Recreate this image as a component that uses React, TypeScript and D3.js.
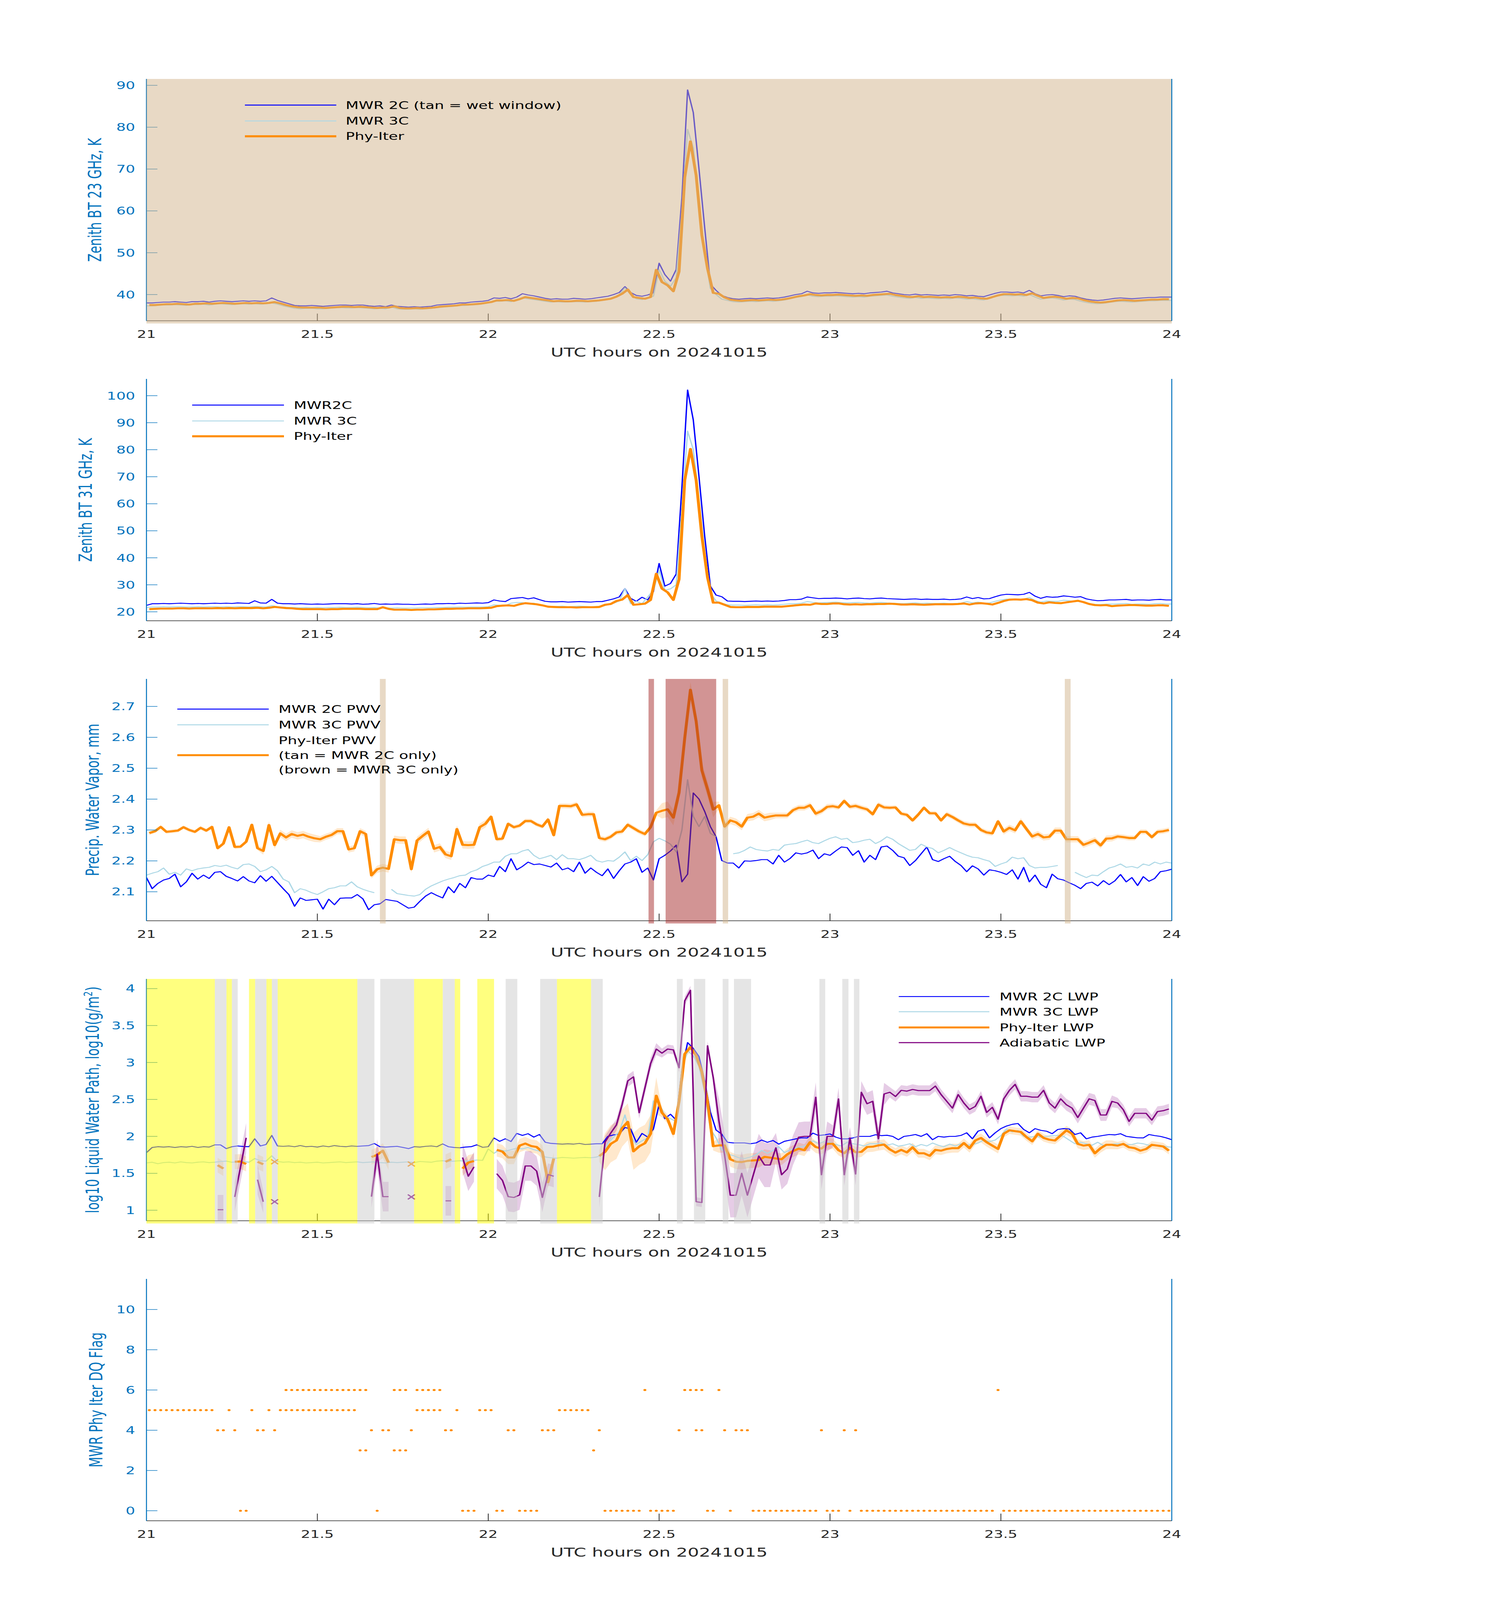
import * as d3 from "d3";

// page / layout (drawn in a 3825 x 6000 coordinate space)
const width = 3825;
const height = 6000;
const plotLeft = 375;
const plotRight = 3000;
const panelTop0 = 296;
const panelStep = 1125;
const panelHeight = 907;

const font = "'DejaVu Sans', Verdana, sans-serif";
const axBlue = "#0072BD";
const axDark = "#262626";
const c2 = "#0000FF";
const c3 = "#ADD8E6";
const cPhy = "#FF8C00";
const cAdb = "#800080";

type Val = number | null;

// ---- x axis ----
const xTicks = [21, 21.5, 22, 22.5, 23, 23.5, 24];
const xTickLabels = ["21", "21.5", "22", "22.5", "23", "23.5", "24"];
const xLabel = "UTC hours on 20241015";

// MWR samples every minute from 21:00, Phy-Iter retrievals at the middle of each minute
const tMin = (i: number) => 21 + i / 60;
const tMid = (i: number) => 21 + (i + 0.5) / 60;

// ---- panel 1: 23 GHz ----
const bt23_2c: Val[] = [
  38.0, 38.0, 38.1, 38.2, 38.2, 38.3, 38.2, 38.1, 38.3, 38.3,
  38.4, 38.2, 38.4, 38.5, 38.4, 38.3, 38.4, 38.5, 38.4, 38.5,
  38.4, 38.5, 39.2, 38.6, 38.2, 37.8, 37.4, 37.3, 37.3, 37.4,
  37.3, 37.2, 37.3, 37.4, 37.5, 37.5, 37.4, 37.5, 37.5, 37.3,
  37.2, 37.3, 37.1, 37.5, 37.2, 37.1, 37.0, 37.1, 37.0, 37.1,
  37.2, 37.5, 37.6, 37.7, 37.8, 38.0, 38.0, 38.2, 38.3, 38.4,
  38.6, 39.2, 39.1, 39.3, 39.0, 39.4, 40.2, 39.9, 39.7, 39.4,
  39.1, 38.9, 39.0, 38.9, 38.9, 39.1, 39.0, 38.9, 39.0, 39.2,
  39.4, 39.6, 40.0, 40.5, 41.9, 40.5, 39.8, 39.6, 39.9, 40.4,
  47.5, 44.8, 43.2, 46.0, 63.0, 88.9, 83.5, 70.0, 56.0, 42.5,
  41.0, 39.8, 39.3, 39.0, 38.9, 39.0, 39.1, 39.0, 39.1, 39.2,
  39.1, 39.2, 39.4, 39.7, 40.0, 40.2, 40.8, 40.4, 40.3, 40.4,
  40.4, 40.5, 40.4, 40.3, 40.2, 40.3, 40.2, 40.4, 40.5, 40.6,
  40.8, 40.4, 40.2, 40.0, 39.9, 40.1, 39.9, 40.0, 39.9, 39.8,
  39.9, 39.8, 40.0, 39.9, 39.7, 39.8, 39.6, 39.5, 39.9, 40.3,
  40.6, 40.6, 40.5, 40.6, 40.4, 41.0, 40.2, 39.7, 39.9, 40.0,
  39.8, 39.5, 39.7, 39.6, 39.2, 38.9, 38.7, 38.6, 38.7, 38.9,
  39.1, 39.2, 39.1, 39.0, 39.1, 39.2, 39.3, 39.3, 39.4, 39.4, 39.4,
];
const bt23_3c: Val[] = [
  37.3, 37.3, 37.4, 37.5, 37.5, 37.6, 37.5, 37.4, 37.6, 37.6,
  37.7, 37.5, 37.7, 37.8, 37.7, 37.6, 37.7, 37.8, 37.7, 37.8,
  37.7, 37.8, 38.0, 37.7, 37.3, 37.0, 36.7, 36.6, 36.7, 36.7,
  36.6, 36.6, 36.7, 36.8, 36.9, 36.8, 36.8, 36.9, 36.8, 36.7,
  36.6, 36.7, 36.6, 37.0, 36.6, 36.5, 36.5, 36.6, 36.5, 36.6,
  36.7, 36.9, 37.0, 37.1, 37.2, 37.4, 37.4, 37.5, 37.6, 37.8,
  38.0, 38.4, 38.4, 38.5, 38.3, 38.7, 39.2, 39.0, 38.8, 38.6,
  38.4, 38.2, 38.3, 38.2, 38.2, 38.3, 38.3, 38.2, 38.3, 38.4,
  38.6, 38.8, 39.3, 40.0, 41.6, 40.0, 39.0, 38.8, 39.1, 39.6,
  46.0, 43.2, 42.0, 44.0, 60.0, 79.5, 75.0, 62.0, 50.0, 41.5,
  40.0, 38.9, 38.6, 38.3, 38.2, 38.3, 38.4, 38.3, 38.4, 38.5,
  38.4, 38.5, 38.7, 39.0, 39.3, 39.5, 39.9, 39.6, 39.5, 39.6,
  39.6, 39.7, 39.6, 39.5, 39.4, 39.5, 39.4, 39.6, 39.7, 39.8,
  39.9, 39.6, 39.4, 39.2, 39.1, 39.3, 39.1, 39.2, 39.1, 39.0,
  39.1, 39.0, 39.2, 39.1, 38.9, 39.0, 38.8, 38.7, 39.1, 39.5,
  39.8, 39.8, 39.7, 39.8, 39.6, 40.0, 39.4, 38.9, 39.1, 39.2,
  39.0, 38.7, 38.9, 38.8, 38.4, 38.1, 37.9, 37.8, 37.9, 38.1,
  38.3, 38.4, 38.3, 38.2, 38.3, 38.4, 38.5, 38.5, 38.6, 38.6, 38.6,
];
const bt23_phy: Val[] = [
  37.5, 37.5, 37.6, 37.7, 37.7, 37.8, 37.7, 37.6, 37.8, 37.8,
  37.9, 37.8, 37.9, 38.0, 37.9, 37.8, 37.9, 38.0, 37.9, 38.0,
  37.9, 38.0, 38.2, 37.9, 37.5, 37.2, 37.0, 36.9, 36.9, 36.9,
  36.9, 36.8, 36.9, 37.0, 37.1, 37.1, 37.0, 37.1, 37.0, 36.9,
  36.8, 36.9, 36.9, 37.2, 36.8, 36.7, 36.7, 36.8, 36.7, 36.8,
  36.9, 37.1, 37.2, 37.3, 37.4, 37.6, 37.6, 37.7, 37.8, 38.0,
  38.2, 38.6, 38.6, 38.7, 38.5, 38.9, 39.4, 39.2, 39.0, 38.8,
  38.6, 38.4, 38.5, 38.4, 38.4, 38.5, 38.5, 38.4, 38.5, 38.6,
  38.8, 39.0, 39.5, 40.2, 41.2, 39.4, 39.2, 39.0, 39.4, 45.9,
  43.0, 42.2, 40.8, 45.5, 68.0, 76.6, 68.5, 54.2, 46.2, 40.4,
  40.2, 39.3, 38.8, 38.6, 38.5, 38.6, 38.7, 38.6, 38.7, 38.8,
  38.7, 38.8, 39.0, 39.3, 39.6, 39.8, 40.1, 39.9, 39.8, 39.9,
  39.9, 40.0, 39.9, 39.8, 39.7, 39.8, 39.7, 39.9, 40.0, 40.1,
  40.2, 39.9, 39.7, 39.5, 39.4, 39.6, 39.4, 39.5, 39.4, 39.3,
  39.4, 39.3, 39.5, 39.4, 39.2, 39.3, 39.1, 39.0, 39.4, 39.8,
  40.1, 40.1, 40.0, 40.1, 39.9, 40.3, 39.7, 39.2, 39.4, 39.5,
  39.3, 39.0, 39.2, 39.1, 38.7, 38.4, 38.2, 38.1, 38.2, 38.4,
  38.6, 38.7, 38.6, 38.5, 38.6, 38.7, 38.8, 38.8, 38.9, 38.9,
];
const wetWindow: [number, number][] = [[21, 24]];

// ---- panel 2: 31 GHz ----
const bt31_2c: Val[] = [
  22.4, 23.0, 23.0, 23.1, 23.0, 23.1, 23.2, 23.1, 23.0, 23.1,
  23.0, 23.1, 23.2, 23.1, 23.2, 23.1, 23.3, 23.2, 23.1, 24.1,
  23.3, 23.2, 24.6, 23.2, 23.0, 23.0, 22.9, 23.0, 22.9, 22.8,
  22.9, 22.8, 22.9, 23.0, 23.0, 23.0, 22.9, 23.0, 22.8, 22.9,
  23.1, 22.8, 22.9, 22.8, 22.9, 22.8, 22.8, 22.7, 22.8, 22.9,
  22.8, 23.0, 23.0, 23.1, 23.0, 23.2, 23.1, 23.2, 23.3, 23.2,
  23.4, 24.4, 24.0, 23.8, 24.9, 25.1, 25.3, 24.8, 25.2, 24.5,
  23.9, 23.7, 23.7, 23.8, 23.6, 23.7, 23.8, 23.7, 23.6, 23.8,
  23.8, 24.3, 24.8, 25.5, 28.6, 25.0, 23.9, 25.4, 24.4, 27.5,
  37.9, 29.5, 30.5, 34.0, 66.0, 102.1, 91.0, 70.0, 48.0, 29.5,
  26.2, 25.6, 24.0, 23.9, 23.9, 23.8, 23.9, 24.0, 23.9, 24.0,
  23.9, 24.0, 24.2, 24.5, 24.5, 24.7, 25.5, 25.2, 24.9, 25.0,
  25.0, 25.1, 25.0, 24.8, 25.0, 25.1, 24.9, 24.8, 25.0, 25.1,
  24.9, 24.8, 24.7, 24.6, 24.7, 24.8, 24.6, 24.7, 24.6, 24.6,
  24.7, 24.5, 24.6, 24.8, 25.5, 24.9, 25.3, 24.8, 24.9, 25.6,
  26.2, 26.5, 26.4, 26.3, 26.5, 27.2, 25.8, 25.0, 25.6, 25.4,
  25.5, 25.9, 25.7, 25.4, 25.6, 24.8, 24.4, 24.1, 24.2, 24.4,
  24.4, 24.5, 24.6, 24.3, 24.4, 24.4, 24.3, 24.5, 24.6, 24.4, 24.4,
];
const bt31_3c: Val[] = [
  21.6, 21.8, 21.8, 21.9, 21.8, 21.9, 21.9, 21.8, 21.8, 21.9,
  21.8, 21.9, 21.9, 21.8, 21.9, 21.8, 21.9, 21.9, 21.8, 22.0,
  21.9, 21.8, 22.3, 21.9, 21.7, 21.6, 21.6, 21.5, 21.6, 21.5,
  21.6, 21.5, 21.6, 21.6, 21.7, 21.6, 21.6, 21.7, 21.6, 21.5,
  21.6, 21.4, 21.5, 21.4, 21.5, 21.4, 21.4, 21.4, 21.5, 21.5,
  21.5, 21.6, 21.6, 21.7, 21.7, 21.8, 21.7, 21.8, 21.8, 21.8,
  21.9, 22.6, 22.4, 22.3, 23.2, 23.5, 23.4, 23.1, 23.2, 22.6,
  22.2, 22.0, 22.0, 22.1, 21.9, 22.0, 22.1, 22.0, 21.9, 22.0,
  22.1, 22.6, 23.2, 24.0, 28.6, 23.0, 23.9, 23.0, 25.5, 28.0,
  35.4, 28.0, 28.5, 30.0, 58.0, 86.9, 80.0, 62.0, 42.0, 27.0,
  24.0, 23.2, 22.6, 22.5, 22.5, 22.4, 22.5, 22.6, 22.5, 22.6,
  22.5, 22.6, 22.8, 23.0, 23.0, 23.2, 23.8, 23.5, 23.3, 23.4,
  23.5, 23.6, 23.4, 23.3, 23.4, 23.5, 23.3, 23.2, 23.4, 23.5,
  23.3, 23.2, 23.1, 23.0, 23.2, 23.3, 23.1, 23.2, 23.1, 23.1,
  23.2, 23.0, 23.1, 23.2, 23.8, 23.3, 23.6, 23.2, 23.3, 23.9,
  24.4, 24.7, 24.6, 24.5, 24.7, 25.3, 24.2, 23.6, 24.0, 23.9,
  23.9, 24.3, 24.1, 23.8, 24.0, 23.3, 22.9, 22.7, 22.8, 22.9,
  22.9, 23.0, 23.1, 22.8, 22.9, 22.9, 22.8, 23.0, 23.1, 22.9, 22.9,
];
const bt31_phy: Val[] = [
  21.0, 21.1, 21.2, 21.2, 21.2, 21.3, 21.3, 21.2, 21.3, 21.3,
  21.3, 21.3, 21.4, 21.3, 21.4, 21.3, 21.4, 21.4, 21.4, 21.5,
  21.3, 21.5, 21.8, 21.6, 21.4, 21.3, 21.1, 21.0, 21.0, 21.0,
  21.0, 20.9, 21.0, 21.0, 21.1, 21.1, 21.1, 21.1, 21.0, 21.0,
  21.0, 21.7, 21.1, 20.8, 20.8, 20.8, 20.7, 20.8, 20.8, 20.9,
  20.9, 21.0, 21.1, 21.1, 21.2, 21.2, 21.3, 21.3, 21.3, 21.4,
  21.5, 22.1, 22.3, 22.4, 22.2, 22.8, 23.2, 23.0, 22.8, 22.4,
  21.9, 21.8, 21.7, 21.7, 21.7, 21.6, 21.7, 21.7, 21.7, 21.8,
  22.6, 22.9, 24.0, 24.5, 26.2, 22.6, 22.8, 23.0, 24.4, 34.1,
  28.6, 27.2, 24.4, 32.0, 68.7, 80.3, 68.7, 48.0, 32.7, 23.4,
  23.4, 22.6, 21.8, 21.7, 21.7, 21.8, 21.8, 21.8, 21.9, 21.9,
  21.9, 21.9, 22.1, 22.3, 22.5, 22.7, 22.6, 23.1, 22.9, 22.9,
  23.1, 23.1, 22.8, 22.7, 22.8, 22.7, 22.8, 22.8, 22.9, 22.9,
  23.0, 22.9, 22.7, 22.7, 22.8, 22.7, 22.6, 22.7, 22.8, 22.8,
  22.8, 22.8, 22.9, 23.1, 22.7, 23.1, 23.2, 23.0, 22.7, 23.3,
  24.0, 24.5, 24.6, 24.5, 24.7, 24.3, 23.4, 23.1, 23.5, 23.3,
  23.2, 23.5, 23.8, 24.1, 23.6, 22.9, 22.5, 22.4, 22.5, 22.1,
  22.3, 22.4, 22.5, 22.5, 22.4, 22.3, 22.3, 22.4, 22.4, 22.2,
];

// ---- panel 3: PWV ----
const pwv_2c: Val[] = [
  2.146, 2.11, 2.127, 2.138, 2.143, 2.157, 2.116, 2.132, 2.16, 2.141,
  2.154, 2.143, 2.163, 2.165, 2.15, 2.143, 2.135, 2.149, 2.135, 2.129,
  2.152, 2.134, 2.15, 2.13, 2.11, 2.091, 2.053, 2.08, 2.072, 2.074,
  2.076, 2.044, 2.076, 2.058, 2.079, 2.08, 2.08, 2.091, 2.077, 2.042,
  2.058, 2.061, 2.075, 2.072, 2.069, 2.058, 2.047, 2.05, 2.069, 2.086,
  2.097, 2.088, 2.08, 2.116, 2.097, 2.127, 2.113, 2.146, 2.141, 2.141,
  2.154, 2.149, 2.182, 2.165, 2.207, 2.171, 2.182, 2.196, 2.188, 2.19,
  2.185, 2.18, 2.193, 2.171, 2.177, 2.165, 2.196, 2.16, 2.177, 2.163,
  2.152, 2.174, 2.143, 2.168, 2.19, 2.196, 2.207, 2.163, 2.177, 2.138,
  2.207, 2.218, 2.232, 2.251, 2.132, 2.157, 2.42, 2.40, 2.36, 2.311,
  2.278, 2.201, 2.193, 2.193, 2.177, 2.2, 2.199, 2.201, 2.204, 2.204,
  2.19, 2.218, 2.196, 2.208, 2.226, 2.222, 2.226, 2.235, 2.207, 2.223,
  2.218, 2.232, 2.245, 2.243, 2.218, 2.233, 2.196, 2.218, 2.204, 2.245,
  2.248, 2.234, 2.215, 2.21, 2.185, 2.201, 2.223, 2.245, 2.204, 2.198,
  2.207, 2.215, 2.198, 2.185, 2.165, 2.184, 2.174, 2.154, 2.171, 2.168,
  2.163, 2.156, 2.171, 2.141, 2.179, 2.132, 2.154, 2.124, 2.113, 2.157,
  2.142, 2.138, 2.129, 2.121, 2.11, 2.127, 2.131, 2.119, 2.136, 2.123,
  2.135, 2.156, 2.132, 2.146, 2.12, 2.149, 2.134, 2.143, 2.165, 2.168, 2.173,
];
const pwv_3c: Val[] = [
  2.154, 2.16, 2.165, 2.177, 2.157, 2.163, 2.154, 2.174, 2.168, 2.174,
  2.177, 2.179, 2.185, 2.182, 2.186, 2.179, 2.174, 2.188, 2.19, 2.182,
  2.165, 2.171, 2.182, 2.168, 2.141, 2.132, 2.097, 2.11, 2.105, 2.097,
  2.091, 2.1, 2.11, 2.113, 2.119, 2.119, 2.132, 2.116, 2.108, 2.102,
  2.097, null, null, 2.108, 2.094, 2.091, 2.088, 2.086, 2.091, 2.108,
  2.119, 2.127, 2.135, 2.141, 2.146, 2.152, 2.154, 2.165, 2.171, 2.182,
  2.188, 2.196, 2.196, 2.215, 2.223, 2.223, 2.232, 2.237, 2.218, 2.207,
  2.212, 2.218, 2.204, 2.22, 2.207, 2.207, 2.204, 2.21, 2.218, 2.201,
  2.196, 2.201, 2.199, 2.212, 2.229, 2.201, 2.215, 2.201, 2.22, 2.262,
  2.273, 2.265, 2.254, 2.229, 2.30, 2.463, 2.344, 2.311, 2.344, 2.289,
  2.278, null, null, 2.223, 2.226, 2.234, 2.245, 2.237, 2.234, 2.232,
  2.237, 2.234, 2.251, 2.254, 2.256, 2.262, 2.267, 2.259, 2.256, 2.265,
  2.273, 2.278, 2.27, 2.273, 2.259, 2.262, 2.267, 2.27, 2.256, 2.265,
  2.278, 2.27, 2.256, 2.245, 2.234, 2.237, 2.254, 2.245, 2.24, 2.226,
  2.234, 2.243, 2.234, 2.226, 2.218, 2.212, 2.21, 2.204, 2.199, 2.182,
  2.19, 2.196, 2.212, 2.207, 2.21, 2.185, 2.177, 2.179, 2.179, 2.182,
  2.185, null, null, 2.163, 2.154, 2.146, 2.154, 2.152, 2.165, 2.177,
  2.182, 2.19, 2.179, 2.182, 2.177, 2.19, 2.185, 2.196, 2.19, 2.196, 2.193,
];
const pwv_phy: Val[] = [
  2.29, 2.296, 2.31, 2.294, 2.296, 2.298, 2.309, 2.30, 2.294, 2.307,
  2.298, 2.31, 2.241, 2.256, 2.309, 2.245, 2.246, 2.262, 2.317, 2.241,
  2.232, 2.316, 2.251, 2.289, 2.276, 2.287, 2.281, 2.285, 2.278, 2.273,
  2.27, 2.278, 2.284, 2.296, 2.296, 2.237, 2.241, 2.296, 2.287, 2.153,
  2.173, 2.178, 2.174, 2.27, 2.267, 2.267, 2.173, 2.266, 2.281, 2.295,
  2.239, 2.245, 2.221, 2.215, 2.303, 2.252, 2.251, 2.252, 2.309, 2.32,
  2.343, 2.27, 2.272, 2.32, 2.309, 2.314, 2.329, 2.329, 2.318, 2.311,
  2.334, 2.283, 2.378, 2.378, 2.377, 2.383, 2.349, 2.351, 2.351, 2.274,
  2.27, 2.278, 2.292, 2.295, 2.317, 2.306, 2.295, 2.287, 2.309, 2.356,
  2.362, 2.367, 2.34, 2.421, 2.598, 2.754, 2.652, 2.493, 2.432, 2.366,
  2.38, 2.311, 2.331, 2.325, 2.311, 2.34, 2.343, 2.353, 2.34, 2.344,
  2.347, 2.347, 2.347, 2.364, 2.372, 2.372, 2.38, 2.353, 2.361, 2.375,
  2.377, 2.373, 2.394, 2.375, 2.378, 2.372, 2.367, 2.351, 2.382, 2.373,
  2.372, 2.373, 2.353, 2.349, 2.331, 2.35, 2.372, 2.354, 2.354, 2.331,
  2.351, 2.342, 2.331, 2.321, 2.317, 2.317, 2.3, 2.292, 2.289, 2.328,
  2.295, 2.307, 2.299, 2.328, 2.303, 2.279, 2.287, 2.276, 2.278, 2.298,
  2.298, 2.27, 2.27, 2.27, 2.252, 2.259, 2.267, 2.25, 2.272, 2.273,
  2.279, 2.277, 2.274, 2.274, 2.294, 2.294, 2.277, 2.294, 2.296, 2.3,
];
// uncertainty of Phy-Iter PWV, one value per 10 minutes
const pwv_phyErr = [0.006, 0.006, 0.012, 0.01, 0.012, 0.012, 0.007, 0.008, 0.008, 0.025, 0.012, 0.009, 0.008, 0.007, 0.008, 0.01, 0.01, 0.008];
const tanBands: [number, number][] = [[21.683, 21.7], [22.686, 22.702], [23.687, 23.704]];
const brownBands: [number, number][] = [[22.469, 22.485], [22.519, 22.667]];

// ---- panel 4: LWP ----
const lwp_2c: Val[] = [
  1.78, 1.85, 1.86, 1.855, 1.86, 1.85, 1.86, 1.855, 1.865, 1.85,
  1.86, 1.855, 1.885, 1.885, 1.834, 1.86, 1.87, 1.863, 1.86, 1.967,
  1.87, 1.89, 2.013, 1.87, 1.865, 1.87, 1.86, 1.875, 1.86, 1.865,
  1.855, 1.87, 1.86, 1.875, 1.865, 1.86, 1.87, 1.865, 1.87, 1.875,
  1.903, 1.86, 1.855, 1.86, 1.865, 1.85, 1.834, 1.86, 1.855, 1.865,
  1.87, 1.86, 1.898, 1.86, 1.85, 1.845, 1.855, 1.86, 1.886, 1.852,
  1.86, 1.979, 1.933, 1.967, 1.93, 2.04, 2.013, 2.036, 1.99, 2.025,
  1.921, 1.905, 1.9, 1.895, 1.9, 1.895, 1.905, 1.89, 1.895, 1.9,
  1.9, 2.0, 2.02, 2.03, 2.12, 2.10, 1.92, 2.04, 1.99, 2.10,
  2.43, 2.24, 2.30, 2.22, 2.9, 3.27, 3.19, 3.08, 2.75, 2.33,
  2.085, 2.03, 1.92, 1.911, 1.911, 1.911, 1.90, 1.911, 1.95, 1.92,
  1.944, 1.895, 1.933, 1.95, 1.966, 1.98, 1.978, 2.044, 2.011, 2.02,
  2.033, 1.99, 1.966, 1.966, 1.978, 2.0, 2.0, 2.0, 2.022, 2.01,
  2.015, 2.0, 1.955, 2.0, 2.01, 2.025, 2.0, 2.036, 1.955, 2.0,
  1.99, 2.0, 2.0, 2.013, 2.048, 1.967, 2.071, 2.094, 1.979, 2.048,
  2.105, 2.14, 2.163, 2.174, 2.094, 2.048, 2.105, 2.082, 2.07, 2.036,
  2.094, 2.105, 2.1, 2.025, 2.048, 1.967, 1.99, 2.0, 2.013, 2.025,
  2.02, 2.036, 2.0, 1.99, 1.98, 1.979, 2.025, 2.01, 2.0, 1.98, 1.955,
];
const lwp_3c: Val[] = [
  1.64, 1.65, 1.63, 1.645, 1.65, 1.64, 1.655, 1.645, 1.64, 1.65,
  1.655, 1.645, 1.65, 1.66, 1.665, 1.65, 1.655, 1.66, 1.65, 1.70,
  1.67, 1.665, 1.737, 1.66, 1.65, 1.655, 1.645, 1.65, 1.64, 1.645,
  1.65, 1.64, 1.645, 1.65, 1.655, 1.645, 1.65, 1.655, 1.645, 1.65,
  1.655, 1.645, 1.64, 1.65, 1.645, 1.65, 1.655, 1.645, 1.66, 1.655,
  1.65, 1.665, 1.67, 1.66, 1.665, 1.67, 1.665, 1.67, 1.68, 1.675,
  1.83, 1.77, 1.82, 1.8, 1.82, 1.84, 1.83, 1.85, 1.82, 1.80,
  1.72, 1.71, 1.705, 1.715, 1.71, 1.705, 1.71, 1.715, 1.71, 1.72,
  1.745, 1.9, 1.99, 2.06, 2.29, 2.0, 1.89, 1.94, 1.98, 2.48,
  2.45, 2.28, 2.24, 2.2, 2.9, 3.16, 3.09, 2.95, 2.6, 2.1,
  1.98, 1.82, 1.76, 1.74, 1.71, 1.70, 1.72, 1.75, 1.81, 1.77,
  1.81, 1.86, 1.78, 1.82, 1.845, 1.86, 1.88, 1.94, 1.9, 1.93,
  1.92, 1.89, 1.87, 1.92, 1.9, 1.889, 1.87, 1.9, 1.9, 1.911,
  1.88, 1.9, 1.867, 1.88, 1.9, 1.86, 1.89, 1.87, 1.91, 1.88,
  1.86, 1.895, 1.87, 1.9, 1.88, 1.89, 1.91, 1.95, 1.93, 1.95,
  2.01, 2.1, 2.06, 2.08, 2.0, 1.99, 2.0, 1.99, 2.0, 2.01,
  2.013, 2.0, 1.95, 1.9, 1.92, 1.9, 1.88, 1.92, 1.875, 1.89,
  1.898, 1.9, 1.886, 1.89, 1.91, 1.9, 1.88, 1.875, 1.88, 1.862, 1.852,
];
const lwp_phy: Val[] = [
  null, null, null, null, null, null, null, null, null, null,
  null, null, 1.61, 1.564, null, 1.656, 1.66, 1.626, null, 1.656,
  1.622, null, 1.656, null, null, null, null, null, null, null,
  null, null, null, null, null, null, null, null, null, 1.72,
  1.75, 1.806, 1.645, null, null, null, 1.626, null, null, null,
  null, null, 1.656, 1.69, null, 1.564, 1.645, 1.667, null, null,
  null, 1.817, 1.794, 1.714, 1.714, 1.875, 1.903, 1.87, 1.856, 1.79,
  1.38, 1.70, null, null, null, null, null, null, null, 1.734,
  1.79, 1.898, 1.944, 2.11, 2.197, 1.797, 1.865, 1.907, 2.035, 2.55,
  2.32, 2.231, 2.033, 2.475, 3.116, 3.209, 3.094, 2.873, 2.475, 1.867,
  1.878, 1.878, 1.69, 1.657, 1.652, 1.668, 1.674, 1.679, 1.723, 1.712,
  1.70, 1.69, 1.757, 1.80, 1.834, 1.812, 1.922, 1.856, 1.834, 1.90,
  1.90, 1.812, 1.772, 1.845, 1.785, 1.79, 1.856, 1.86, 1.878, 1.889,
  1.823, 1.78, 1.817, 1.783, 1.852, 1.771, 1.771, 1.737, 1.817, 1.806,
  1.829, 1.84, 1.84, 1.91, 1.84, 1.944, 1.979, 1.921, 1.875, 1.829,
  2.036, 2.082, 2.071, 2.06, 1.99, 1.933, 2.036, 1.979, 1.955, 1.944,
  2.013, 2.082, 2.036, 1.898, 1.875, 1.886, 1.771, 1.84, 1.886, 1.886,
  1.875, 1.898, 1.852, 1.84, 1.806, 1.829, 1.886, 1.875, 1.863, 1.806,
];
const lwp_adb: Val[] = [
  null, null, null, null, null, null, null, null, null, null,
  null, null, 1.007, 1.007, null, 1.18, 1.58, 1.98, null, 1.414,
  1.115, null, 1.115, null, null, null, null, null, null, null,
  null, null, null, null, null, null, null, null, null, 1.184,
  1.76, 1.184, 1.184, null, null, null, 1.18, null, null, null,
  null, null, 1.127, 1.127, null, 1.714, 1.46, 1.587, null, null,
  null, 1.495, 1.403, 1.184, 1.173, 1.207, 1.599, 1.599, 1.53, 1.173,
  1.484, 1.46, null, null, null, null, null, null, null, 1.18,
  1.922, 2.044, 2.154, 2.43, 2.751, 2.806, 2.32, 2.652, 2.983, 3.182,
  3.127, 3.182, 3.171, 2.928, 3.835, 3.978, 1.115, 1.104, 3.227, 2.796,
  2.209, 1.745, 1.203, 1.203, 1.5, 1.203, 1.469, 1.734, 1.613, 1.613,
  1.845, 1.48, 1.558, 1.812, 1.989, 2.0, 2.0, 2.53, 1.48, 2.0,
  2.0, 2.508, 1.48, 1.978, 1.49, 2.597, 2.441, 2.475, 1.966, 2.574,
  2.597, 2.54, 2.623, 2.612, 2.635, 2.62, 2.62, 2.62, 2.681, 2.566,
  2.474, 2.382, 2.566, 2.451, 2.363, 2.405, 2.543, 2.324, 2.393, 2.232,
  2.508, 2.623, 2.704, 2.543, 2.543, 2.531, 2.531, 2.623, 2.451, 2.382,
  2.508, 2.428, 2.382, 2.255, 2.382, 2.508, 2.485, 2.289, 2.289, 2.474,
  2.451, 2.359, 2.202, 2.312, 2.312, 2.312, 2.22, 2.336, 2.347, 2.37,
];
const lwp_phyErr = [0.1, 0.1, 0.1, 0.1, 0.1, 0.1, 0.09, 0.08, 0.25, 0.06, 0.1, 0.08, 0.07, 0.06, 0.06, 0.05, 0.06, 0.05];
const lwp_adbErr = [0.15, 0.2, 0.15, 0.15, 0.2, 0.2, 0.2, 0.15, 0.08, 0.06, 0.3, 0.2, 0.15, 0.07, 0.07, 0.07, 0.08, 0.07];
const yellowBands: [number, number][] = [
  [21.0, 21.2], [21.234, 21.25], [21.3, 21.318], [21.351, 21.367], [21.384, 21.617],
  [21.783, 21.867], [21.902, 21.918], [21.968, 22.017], [22.201, 22.301],
];
const grayBands: [number, number][] = [
  [21.2, 21.234], [21.25, 21.267], [21.318, 21.351], [21.367, 21.384], [21.617, 21.667],
  [21.684, 21.783], [21.867, 21.902], [22.051, 22.085], [22.152, 22.201], [22.301, 22.335],
  [22.552, 22.569], [22.602, 22.635], [22.686, 22.703], [22.719, 22.769], [22.969, 22.986],
  [23.036, 23.054], [23.07, 23.086],
];

// ---- panel 5: DQ flag, minute indices for each flag value ----
const range = (a: number, b: number) => d3.range(a, b + 1);
const dqFlag0 = [16, 17, 40, 55, 56, 57, 61, 62, ...range(65, 68), ...range(80, 86), ...range(88, 92), 98, 99, 102,
  ...range(106, 117), 119, 120, 121, 123, ...range(125, 148), ...range(150, 179)];
const dqFlag3 = [37, 38, 43, 44, 45, 78];
const dqFlag4 = [12, 13, 15, 19, 20, 22, 39, 41, 42, 46, 52, 53, 63, 64, 69, 70, 71, 79, 93, 96, 97, 101,
  103, 104, 105, 118, 122, 124];
const dqFlag5 = [...range(0, 11), 14, 18, 21, ...range(23, 36), ...range(47, 51), 54, 58, 59, 60, ...range(72, 77)];
const dqFlag6 = [...range(24, 38), 43, 44, 45, ...range(47, 51), 87, 94, 95, 96, 97, 100, 149];
const dqFlags: [number, number[]][] = [[0, dqFlag0], [3, dqFlag3], [4, dqFlag4], [5, dqFlag5], [6, dqFlag6]];

// ---- helpers ----
const x = d3.scaleLinear().domain([21, 24]).range([plotLeft, plotRight]);

const errAt = (err: number[], i: number) => err[Math.min(err.length - 1, Math.floor(i / 10))];

function linePath(vals: Val[], tf: (i: number) => number, y: d3.ScaleLinear<number, number>) {
  return (
    d3
      .line<Val>()
      .defined((v) => v != null)
      .x((_, i) => x(tf(i)))
      .y((v) => y(v as number))(vals) || ""
  );
}

function bandPath(vals: Val[], err: number[], tf: (i: number) => number, y: d3.ScaleLinear<number, number>) {
  return (
    d3
      .area<Val>()
      .defined((v) => v != null)
      .x((_, i) => x(tf(i)))
      .y0((v, i) => y((v as number) - errAt(err, i)))
      .y1((v, i) => y((v as number) + errAt(err, i)))(vals) || ""
  );
}

// single retrievals with no neighbours are shown as x markers
function Isolated({ vals, tf, y, color }: any) {
  const idx = vals
    .map((_: Val, i: number) => i)
    .filter((i: number) => vals[i] != null && vals[i - 1] == null && vals[i + 1] == null);
  return (
    <g stroke={color} strokeWidth={4}>
      {idx.map((i: number) => {
        const cx = x(tf(i));
        const cy = y(vals[i]);
        const s = 9;
        return (
          <g key={i}>
            <line x1={cx - s} y1={cy - s} x2={cx + s} y2={cy + s} />
            <line x1={cx - s} y1={cy + s} x2={cx + s} y2={cy - s} />
          </g>
        );
      })}
    </g>
  );
}

function Bands({ bands, color, top, bottom }: any) {
  return (
    <g fill={color}>
      {bands.map((b: [number, number], i: number) => (
        <rect key={i} x={x(b[0])} y={top} width={x(b[1]) - x(b[0])} height={bottom - top} />
      ))}
    </g>
  );
}

type LegendRow = { y: number; text: string; color?: string; w?: number };
function Legend({ rows, x1, x2, tx }: { rows: LegendRow[]; x1: number; x2: number; tx: number }) {
  return (
    <g>
      {rows.map((r, i) => (
        <g key={i}>
          {r.color && <line x1={x1} x2={x2} y1={r.y} y2={r.y} stroke={r.color} strokeWidth={r.w} />}
          <text x={tx} y={r.y + 14} fontSize={38.5} fontFamily={font} fill="#000">
            {r.text}
          </text>
        </g>
      ))}
    </g>
  );
}

type PanelProps = {
  k: number;
  domain: [number, number];
  yTicks: number[];
  yTickLabels: string[];
  yLabel: any;
  yLabelX: number;
  series: (y: d3.ScaleLinear<number, number>) => any;
  overlay?: (top: number, bottom: number) => any;
  legend?: any;
};

function Panel({ k, domain, yTicks, yTickLabels, yLabel, yLabelX, series, overlay, legend }: PanelProps) {
  const top = panelTop0 + k * panelStep;
  const bottom = top + panelHeight;
  const y = d3.scaleLinear().domain(domain).range([bottom, top]);
  const midY = (top + bottom) / 2;
  return (
    <g>
      <defs>
        <clipPath id={`clip${k}`}>
          <rect x={plotLeft} y={top} width={plotRight - plotLeft} height={panelHeight} />
        </clipPath>
      </defs>
      <g clipPath={`url(#clip${k})`}>{series(y)}</g>

      {/* x axis */}
      <line x1={plotLeft} x2={plotRight} y1={bottom} y2={bottom} stroke={axDark} strokeWidth={2.5} />
      {xTicks.map((t, i) => (
        <g key={t}>
          <line x1={x(t)} x2={x(t)} y1={bottom} y2={bottom - 27} stroke={axDark} strokeWidth={2} />
          <text x={x(t)} y={bottom + 64} textAnchor="middle" fontSize={38} fontFamily={font} fill={axDark}>
            {xTickLabels[i]}
          </text>
        </g>
      ))}
      <text x={(plotLeft + plotRight) / 2} y={bottom + 134} textAnchor="middle" fontSize={46} fontFamily={font} fill={axDark}>
        {xLabel}
      </text>

      {/* y axis */}
      <line x1={plotLeft} x2={plotLeft} y1={top} y2={bottom} stroke={axBlue} strokeWidth={2.5} />
      {yTicks.map((t, i) => (
        <g key={t}>
          <line x1={plotLeft} x2={plotLeft + 28} y1={y(t)} y2={y(t)} stroke={axBlue} strokeWidth={2} />
          <text x={346} y={y(t) + 14} textAnchor="end" fontSize={38} fontFamily={font} fill={axBlue}>
            {yTickLabels[i]}
          </text>
        </g>
      ))}
      <text
        transform={`translate(${yLabelX + 17},${midY}) rotate(-90)`}
        textAnchor="middle"
        fontSize={46}
        fontFamily={font}
        fill={axBlue}
      >
        {yLabel}
      </text>

      {overlay && overlay(top, bottom + 10)}
      <line x1={plotRight} x2={plotRight} y1={top} y2={bottom} stroke={axBlue} strokeWidth={2.5} />
      {legend}
    </g>
  );
}

const tan = "rgba(210,180,140,0.5)";
const brown = "rgba(165,42,42,0.5)";
const yellow = "rgba(255,255,0,0.5)";
const gray = "rgba(204,204,204,0.5)";

export default function App() {
  // the browser screen is shorter than the figure; fit the whole figure into the visible window
  const shownHeight = Math.min(height, typeof window !== "undefined" ? window.innerHeight || height : height);
  return (
    <div style={{ margin: -8, width, height: shownHeight, background: "#fff", overflow: "hidden" }}>
      <svg
        width={width}
        height={shownHeight}
        viewBox={`0 0 ${width} ${height}`}
        preserveAspectRatio="none"
        style={{ display: "block" }}
      >
        <rect x={0} y={0} width={width} height={height} fill="#fff" />

        <Panel
          k={0}
          domain={[33.73, 91.53]}
          yTicks={[40, 50, 60, 70, 80, 90]}
          yTickLabels={["40", "50", "60", "70", "80", "90"]}
          yLabel="Zenith BT 23 GHz, K"
          yLabelX={242}
          series={(y) => (
            <g fill="none" strokeLinejoin="round">
              <path d={linePath(bt23_2c, tMin, y)} stroke={c2} strokeWidth={3.5} />
              <path d={linePath(bt23_3c, tMin, y)} stroke={c3} strokeWidth={3.5} />
              <path d={linePath(bt23_phy, tMid, y)} stroke={cPhy} strokeWidth={7.5} />
            </g>
          )}
          overlay={(top, bottom) => <Bands bands={wetWindow} color={tan} top={top} bottom={bottom} />}
          legend={
            <Legend
              x1={627}
              x2={861}
              tx={885}
              rows={[
                { y: 394, text: "MWR 2C (tan = wet window)", color: c2, w: 3.5 },
                { y: 453.5, text: "MWR 3C", color: c3, w: 3.5 },
                { y: 511, text: "Phy-Iter", color: cPhy, w: 7.5 },
              ]}
            />
          }
        />

        <Panel
          k={1}
          domain={[16.68, 106.2]}
          yTicks={[20, 30, 40, 50, 60, 70, 80, 90, 100]}
          yTickLabels={["20", "30", "40", "50", "60", "70", "80", "90", "100"]}
          yLabel="Zenith BT 31 GHz, K"
          yLabelX={218}
          series={(y) => (
            <g fill="none" strokeLinejoin="round">
              <path d={linePath(bt31_2c, tMin, y)} stroke={c2} strokeWidth={3.5} />
              <path d={linePath(bt31_3c, tMin, y)} stroke={c3} strokeWidth={3.5} />
              <path d={linePath(bt31_phy, tMid, y)} stroke={cPhy} strokeWidth={7.5} />
            </g>
          )}
          legend={
            <Legend
              x1={492}
              x2={727}
              tx={752}
              rows={[
                { y: 1519, text: "MWR2C", color: c2, w: 3.5 },
                { y: 1578.5, text: "MWR 3C", color: c3, w: 3.5 },
                { y: 1636, text: "Phy-Iter", color: cPhy, w: 7.5 },
              ]}
            />
          }
        />

        <Panel
          k={2}
          domain={[2.006, 2.789]}
          yTicks={[2.1, 2.2, 2.3, 2.4, 2.5, 2.6, 2.7]}
          yTickLabels={["2.1", "2.2", "2.3", "2.4", "2.5", "2.6", "2.7"]}
          yLabel="Precip. Water Vapor, mm"
          yLabelX={236}
          series={(y) => (
            <g strokeLinejoin="round">
              <path d={linePath(pwv_2c, tMin, y)} fill="none" stroke={c2} strokeWidth={3.5} />
              <path d={linePath(pwv_3c, tMin, y)} fill="none" stroke={c3} strokeWidth={3.5} />
              <path d={bandPath(pwv_phy, pwv_phyErr, tMid, y)} fill="rgba(255,140,0,0.2)" stroke="none" />
              <path d={linePath(pwv_phy, tMid, y)} fill="none" stroke={cPhy} strokeWidth={7.5} />
            </g>
          )}
          overlay={(top, bottom) => (
            <g>
              <Bands bands={tanBands} color={tan} top={top} bottom={bottom} />
              <Bands bands={brownBands} color={brown} top={top} bottom={bottom} />
            </g>
          )}
          legend={
            <Legend
              x1={454}
              x2={688}
              tx={713}
              rows={[
                { y: 2659, text: "MWR 2C PWV", color: c2, w: 3.5 },
                { y: 2718, text: "MWR 3C PWV", color: c3, w: 3.5 },
                { y: 2776, text: "Phy-Iter PWV" },
                { y: 2832, text: "(tan = MWR 2C only)", color: cPhy, w: 7.5 },
                { y: 2886, text: "(brown = MWR 3C only)" },
              ]}
            />
          }
        />

        <Panel
          k={3}
          domain={[0.857, 4.131]}
          yTicks={[1, 1.5, 2, 2.5, 3, 3.5, 4]}
          yTickLabels={["1", "1.5", "2", "2.5", "3", "3.5", "4"]}
          yLabel={
            <>
              log10 Liquid Water Path, log10(g/m
              <tspan dy={-17} fontSize={30}>
                2
              </tspan>
              <tspan dy={17}>)</tspan>
            </>
          }
          yLabelX={236}
          series={(y) => (
            <g strokeLinejoin="round">
              <path d={bandPath(lwp_phy, lwp_phyErr, tMid, y)} fill="rgba(255,140,0,0.2)" stroke="none" />
              <path d={bandPath(lwp_adb, lwp_adbErr, tMid, y)} fill="rgba(128,0,128,0.2)" stroke="none" />
              <path d={linePath(lwp_2c, tMin, y)} fill="none" stroke={c2} strokeWidth={3.5} />
              <path d={linePath(lwp_3c, tMin, y)} fill="none" stroke={c3} strokeWidth={3.5} />
              <path d={linePath(lwp_phy, tMid, y)} fill="none" stroke={cPhy} strokeWidth={7.5} />
              <Isolated vals={lwp_phy} tf={tMid} y={y} color={cPhy} />
              <path d={linePath(lwp_adb, tMid, y)} fill="none" stroke={cAdb} strokeWidth={4} />
              <Isolated vals={lwp_adb} tf={tMid} y={y} color={cAdb} />
            </g>
          )}
          overlay={(top, bottom) => (
            <g>
              <Bands bands={yellowBands} color={yellow} top={top} bottom={bottom} />
              <Bands bands={grayBands} color={gray} top={top} bottom={bottom} />
            </g>
          )}
          legend={
            <Legend
              x1={2301}
              x2={2533}
              tx={2559}
              rows={[
                { y: 3737, text: "MWR 2C LWP", color: c2, w: 3.5 },
                { y: 3794, text: "MWR 3C LWP", color: c3, w: 3.5 },
                { y: 3853, text: "Phy-Iter LWP", color: cPhy, w: 7.5 },
                { y: 3910, text: "Adiabatic LWP", color: cAdb, w: 4 },
              ]}
            />
          }
        />

        <Panel
          k={4}
          domain={[-0.5, 11.52]}
          yTicks={[0, 2, 4, 6, 8, 10]}
          yTickLabels={["0", "2", "4", "6", "8", "10"]}
          yLabel="MWR Phy Iter DQ Flag"
          yLabelX={245}
          series={(y) => (
            <g fill={cPhy}>
              {dqFlags.map(([flag, minutes]) =>
                minutes.map((m) => <circle key={`${flag}-${m}`} cx={x(tMid(m))} cy={y(flag)} r={3.8} />)
              )}
            </g>
          )}
        />
      </svg>
    </div>
  );
}
